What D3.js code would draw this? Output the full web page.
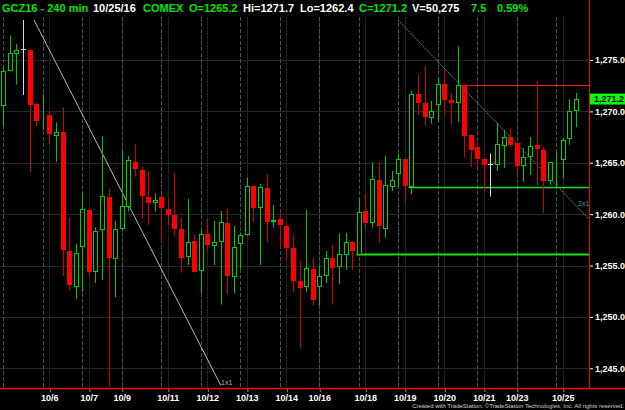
<!DOCTYPE html>
<html><head><meta charset="utf-8">
<script src="https://cdn.jsdelivr.net/npm/d3@7/dist/d3.min.js"></script>
<style>body{margin:0;background:#000;overflow:hidden}svg{display:block}</style>
</head><body><svg id="c" width="625" height="410"></svg>
<script>
// ---- data (240-min bars of GCZ16) ----
const opens  = [1270.5,1273.9,1275.55,1276.07,1276.0,1270.75,1269.65,1269.65,1267.64,1268.0,
  1256.45,1252.95,1256.8,1260.45,1254.4,1258.5,1261.65,1255.6,1258.55,1260.7,
  1265.1,1264.3,1261.7,1261.1,1261.7,1260.5,1259.9,1258.55,1255.8,1257.4,
  1254.5,1258.1,1256.9,1257.3,1259.1,1253.9,1257.1,1258.0,1262.75,1260.55,
  1262.5,1259.2,1259.55,1258.85,1256.75,1253.5,1252.9,1254.65,1252.9,1254.0,
  1255.7,1254.85,1256.0,1257.25,1256.0,1260.3,1259.1,1263.3,1258.6,1262.6,
  1263.9,1265.35,1262.6,1271.65,1270.85,1269.35,1270.6,1272.65,1271.1,1270.85,
  1272.55,1267.75,1266.5,1265.35,1264.85,1264.8,1266.65,1267.55,1266.9,1264.7,
  1265.6,1266.7,1266.25,1263.2,1265.25,1265.3,1267.3,1270.0];
const highs  = [1274.35,1277.4,1276.55,1279.5,1276.0,1270.85,1271.7,1270.07,1268.94,1270.4,
  1259.7,1257.1,1262.1,1260.45,1258.73,1267.6,1262.5,1259.35,1266.2,1265.65,
  1266.8,1264.6,1264.2,1262.0,1261.9,1261.5,1264.05,1259.65,1261.5,1258.0,
  1258.5,1259.55,1259.35,1260.3,1260.5,1258.85,1258.2,1263.55,1262.75,1262.95,
  1263.9,1260.9,1260.3,1259.1,1258.0,1255.5,1260.4,1255.8,1254.9,1256.4,
  1257.0,1258.1,1258.2,1257.4,1261.5,1261.95,1265.05,1265.05,1265.65,1264.2,
  1265.9,1265.35,1272.0,1273.55,1274.45,1271.0,1273.3,1274.1,1271.8,1276.3,
  1272.55,1267.75,1267.3,1265.55,1265.9,1268.85,1268.2,1268.35,1266.95,1266.4,
  1267.5,1272.9,1266.55,1265.05,1266.0,1267.4,1271.2,1271.8];
const lows   = [1268.6,1273.9,1272.6,1271.6,1264.1,1268.6,1268.2,1266.8,1265.1,1254.0,
  1252.55,1251.75,1252.45,1253.85,1253.3,1253.6,1243.2,1251.9,1258.4,1260.25,
  1263.65,1259.6,1258.95,1260.25,1257.3,1258.95,1257.8,1254.3,1255.05,1254.3,
  1252.3,1256.35,1255.05,1251.2,1252.2,1252.3,1254.7,1257.9,1259.2,1255.05,
  1257.25,1258.7,1256.95,1255.5,1252.45,1247.0,1252.45,1251.1,1251.1,1253.3,
  1251.2,1253.2,1254.6,1254.6,1256.0,1258.6,1258.7,1257.25,1257.7,1262.25,
  1262.6,1261.15,1261.95,1269.65,1268.6,1268.8,1269.05,1269.7,1268.75,1269.0,
  1265.55,1264.6,1264.6,1262.2,1261.7,1264.2,1264.5,1266.5,1263.95,1263.15,
  1263.8,1262.8,1260.1,1262.85,1262.65,1263.5,1266.75,1268.45];
const closes = [1273.9,1275.65,1276.0,1276.07,1270.65,1269.1,1269.75,1267.8,1268.03,1256.5,
  1253.1,1256.2,1260.5,1254.4,1258.4,1261.8,1255.7,1258.6,1260.8,1265.3,
  1264.35,1261.75,1261.05,1261.4,1260.55,1259.95,1258.55,1255.7,1257.3,1254.4,
  1258.05,1256.95,1257.3,1259.2,1253.95,1256.8,1257.95,1262.7,1260.6,1262.6,
  1259.25,1259.45,1258.9,1256.75,1253.5,1252.85,1254.75,1251.65,1253.95,1255.7,
  1254.75,1256.1,1257.3,1256.4,1260.2,1259.1,1263.4,1258.8,1262.8,1263.3,
  1265.35,1262.7,1271.7,1270.85,1269.5,1270.05,1272.65,1271.1,1270.85,1272.55,
  1267.6,1266.25,1265.35,1264.8,1264.85,1266.8,1267.55,1266.75,1264.7,1265.6,
  1266.65,1266.35,1263.25,1265.05,1265.35,1267.2,1270.05,1271.2];
const yTicks = [1245,1250,1255,1260,1265,1270,1275];
const xLabels = ["10/6","10/7","10/9","10/11","10/12","10/13","10/14","10/16","10/18","10/19","10/20","10/21","10/23","10/25"];
const xLabelBars = [7,13,18,25,31,37,43,48,55,61,67,73,78,85];
const sessionBars = [0,6,12,18,24,30,36,42,48,54,60,66,72,78,84];
const lastPrice = 1271.2;
// drawn studies: [barIndex, price] endpoints
const trendLines = [
  {from:[4.66,1278.9], to:[33.07,1243.3], label:"1x1", color:"#b8b8b8", dash:null},
  {from:[59.94,1278.9], to:[89.0,1259.5], label:"2x1", color:"#22a0a0", dash:"2,1"}
];
const levels = [
  {price:1272.55, fromBar:70, color:"#ff1a1a", w:1},
  {price:1262.65, fromBar:62, color:"#22e022", w:1.5},
  {price:1256.1,  fromBar:54, color:"#1ee01e", w:2}
];
const header = [
  {t:"GCZ16 - 240 min", c:"#00e600", x:2},
  {t:"10/25/16", c:"#ffffff", x:93},
  {t:"COMEX", c:"#00e600", x:143},
  {t:"O=1265.2", c:"#00e600", x:189},
  {t:"Hi=1271.7", c:"#ffffff", x:243},
  {t:"Lo=1262.4", c:"#ffffff", x:300},
  {t:"C=1271.2", c:"#00e600", x:359},
  {t:"V=50,275", c:"#ffffff", x:412},
  {t:"7.5", c:"#00e600", x:471},
  {t:"0.59%", c:"#00e600", x:497}
];

// ---- layout ----
const plotL = 0, plotR = 589.5, plotT = 20, plotB = 388.5;
const svg = d3.select("#c");
svg.append("rect").attr("width",625).attr("height",410).attr("fill","#000");
const bars = d3.range(opens.length);
const x = d3.scaleLinear().domain([0, bars.length-1]).range([3.3, 576]);
const y = d3.scaleLinear().domain([1245, 1275]).range([368.3, 60]);
const cx = i => Math.round(x(i)) + 0.5;
const font = "'Liberation Sans', Arial, sans-serif";

svg.append("defs").append("clipPath").attr("id","clip")
  .append("rect").attr("x",plotL).attr("y",plotT).attr("width",plotR-plotL).attr("height",plotB-plotT);

// grid
const grid = svg.append("g");
grid.selectAll("line.h").data(yTicks).join("line")
  .attr("x1",plotL).attr("x2",plotR).attr("y1",d=>Math.round(y(d))+0.5).attr("y2",d=>Math.round(y(d))+0.5)
  .attr("stroke","#262626");
grid.selectAll("line.v").data(xLabelBars).join("line")
  .attr("x1",d=>cx(d)).attr("x2",d=>cx(d)).attr("y1",plotT-3).attr("y2",plotB)
  .attr("stroke","#222");
grid.selectAll("line.s").data(sessionBars).join("line")
  .attr("x1",d=>cx(d)).attr("x2",d=>cx(d)).attr("y1",plotT-3).attr("y2",plotB)
  .attr("stroke","#505050").attr("stroke-dasharray","4,2");

// header
const ht = svg.append("g").attr("font-family",font).attr("font-weight","bold").attr("font-size","11px");
ht.selectAll("text").data(header).join("text")
  .attr("x",d=>d.x).attr("y",12).attr("fill",d=>d.c).text(d=>d.t);

const plot = svg.append("g").attr("clip-path","url(#clip)");

// levels
plot.selectAll("line.lv").data(levels).join("line")
  .attr("x1",d=>Math.round(x(d.fromBar))-2.5).attr("x2",plotR)
  .attr("y1",d=>Math.round(y(d.price))+0.5).attr("y2",d=>Math.round(y(d.price))+0.5)
  .attr("stroke",d=>d.color).attr("stroke-width",d=>d.w);

// trend lines
plot.selectAll("line.tl").data(trendLines).join("line")
  .attr("x1",d=>x(d.from[0])).attr("y1",d=>y(d.from[1]))
  .attr("x2",d=>x(d.to[0])).attr("y2",d=>y(d.to[1]))
  .attr("stroke",d=>d.color).attr("stroke-width",1)
  .attr("stroke-dasharray",d=>d.dash);

// candles
const GREEN = "#00d400", GWICK = "#00c800", RED = "#ff0000", RWICK = "#d00000", DOJI = "#d8d8d8";
const kind = i => closes[i] > opens[i] ? "up" : (closes[i] < opens[i] ? "down" : "doji");
const cg = plot.append("g");
cg.selectAll("line.w").data(bars).join("line")
  .attr("x1",cx).attr("x2",cx)
  .attr("y1",i=>y(highs[i])).attr("y2",i=>y(lows[i]))
  .attr("stroke",i=>({up:GWICK,down:RWICK,doji:DOJI})[kind(i)]).attr("stroke-width",1);
cg.selectAll("rect.dn").data(bars.filter(i=>kind(i)==="down")).join("rect")
  .attr("x",i=>Math.round(x(i))-2).attr("width",5)
  .attr("y",i=>Math.round(y(opens[i])))
  .attr("height",i=>Math.max(1,Math.round(y(closes[i]))-Math.round(y(opens[i]))))
  .attr("fill",RED);
cg.selectAll("rect.up").data(bars.filter(i=>kind(i)==="up")).join("rect")
  .attr("x",i=>Math.round(x(i))-1.5).attr("width",4)
  .attr("y",i=>Math.round(y(closes[i]))+0.5)
  .attr("height",i=>Math.max(0,Math.round(y(opens[i]))-Math.round(y(closes[i]))-1))
  .attr("fill","#000").attr("stroke",GREEN).attr("stroke-width",1);
cg.selectAll("line.dj").data(bars.filter(i=>kind(i)==="doji")).join("line")
  .attr("x1",i=>Math.round(x(i))-2).attr("x2",i=>Math.round(x(i))+3)
  .attr("y1",i=>Math.round(y(opens[i]))+0.5).attr("y2",i=>Math.round(y(opens[i]))+0.5)
  .attr("stroke",DOJI);

// trend line labels
svg.selectAll("text.tl").data(trendLines).join("text")
  .attr("x",d=>Math.min(x(d.to[0]), 588)).attr("y",d=>y(d.to[1]))
  .attr("dx",(d,i)=>i===0?0:-10).attr("dy",(d,i)=>i===0?-1:-13)
  .attr("font-family",font).attr("font-size","7px").attr("fill",d=>d.color).text(d=>d.label);

// axes lines
svg.append("line").attr("x1",0).attr("x2",625).attr("y1",plotB).attr("y2",plotB)
  .attr("stroke","#ff0000").attr("stroke-width",1.5);
svg.append("line").attr("x1",plotR).attr("x2",plotR).attr("y1",0).attr("y2",plotB)
  .attr("stroke","#ff0000").attr("stroke-width",1);

// y axis
const yAxis = d3.axisRight(y).tickValues(yTicks).tickFormat(d3.format(",.1f")).tickSize(3).tickPadding(2);
const ya = svg.append("g").attr("transform",`translate(${plotR+0.5},0)`).call(yAxis);
ya.select(".domain").remove();
ya.selectAll("line").attr("stroke","#fff");
ya.selectAll("text").attr("fill","#fff").attr("font-family",font).attr("font-weight","bold").attr("font-size","9px");

// last price marker
const lp = svg.append("g");
lp.append("rect").attr("x",plotR+0.5).attr("y",y(lastPrice)-5.5).attr("width",625-plotR).attr("height",11).attr("fill","#00ff00");
lp.append("text").attr("x",594).attr("y",y(lastPrice)).attr("dy","0.35em")
  .attr("font-family",font).attr("font-weight","bold").attr("font-size","9px").attr("fill","#000")
  .text(d3.format(",.1f")(lastPrice));

// x axis
const xAxis = d3.axisBottom(x).tickValues(xLabelBars).tickFormat((d,i)=>xLabels[i]).tickSize(3).tickPadding(3);
const xa = svg.append("g").attr("transform",`translate(0,${plotB+0.5})`).call(xAxis);
xa.select(".domain").remove();
xa.selectAll("line").attr("stroke","#888").attr("transform","translate(0.5,0)");
xa.selectAll("text").attr("fill","#fff").attr("font-family",font).attr("font-weight","bold").attr("font-size","9px");

// footer
svg.append("text").attr("x",624).attr("y",408).attr("text-anchor","end")
  .attr("font-family",font).attr("font-size","6px").attr("fill","#d0d0d0")
  .text("Created with TradeStation. \u00A9TradeStation Technologies, Inc. All rights reserved.");
</script></body></html>
